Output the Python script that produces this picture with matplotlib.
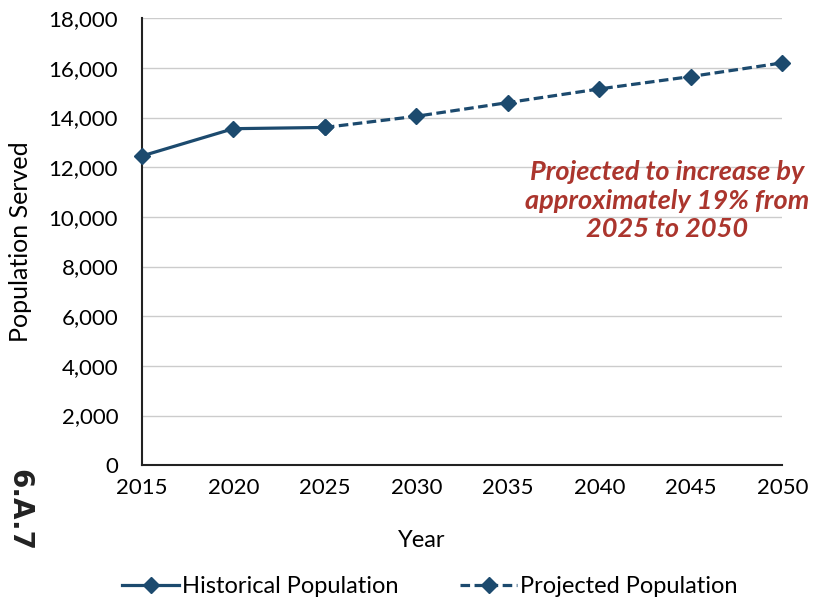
import matplotlib.pyplot as plt
from matplotlib.ticker import FuncFormatter

plt.rcParams['font.family'] = ['Lato', 'DejaVu Sans']

# population served, historical and projected
hist_years = [2015, 2020, 2025]
hist_pop = [12450, 13550, 13600]
proj_years = [2025, 2030, 2035, 2040, 2045, 2050]
proj_pop = [13600, 14050, 14600, 15150, 15650, 16200]

year_ticks = [2015, 2020, 2025, 2030, 2035, 2040, 2045, 2050]
pop_ticks = list(range(0, 18001, 2000))

line_color = '#1c4a6e'
note_color = '#ab352d'

fig = plt.figure(figsize=(8.15, 6.05), dpi=100)
ax = fig.add_axes([0.174, 0.231, 0.786, 0.739])

ax.plot(hist_years, hist_pop, color=line_color, lw=2.3, marker='D',
        markersize=8, label='Historical Population', clip_on=False, zorder=3)
ax.plot(proj_years, proj_pop, color=line_color, lw=2.3, ls=(0, (3, 1.4)),
        marker='D', markersize=8, label='Projected Population',
        clip_on=False, zorder=3)

ax.set_xlim(2015, 2050)
ax.set_ylim(0, 18000)
ax.set_xticks(year_ticks)
ax.set_yticks(pop_ticks)
ax.yaxis.set_major_formatter(FuncFormatter(lambda v, p: f'{int(v):,}'))
ax.tick_params(axis='both', length=0, labelsize=16)
ax.tick_params(axis='x', pad=9)
ax.tick_params(axis='y', pad=17)

ax.grid(axis='y', color='#cccccc', lw=1)
ax.set_axisbelow(True)
for side in ['top', 'right']:
    ax.spines[side].set_visible(False)
for side in ['left', 'bottom']:
    ax.spines[side].set_color('#222222')
    ax.spines[side].set_linewidth(1.5)

ax.set_xlabel('Year', fontsize=17, va='top')
ax.xaxis.set_label_coords(0.4375, -0.145)
ax.set_ylabel('Population Served', fontsize=18, va='center')
ax.yaxis.set_label_coords(-0.19, 0.5)

ax.text(2043.7, 10650, 'Projected to increase by\napproximately 19% from\n2025 to 2050',
        color=note_color, fontsize=19.5, fontweight='bold', fontstyle='italic',
        ha='center', va='center', linespacing=1.22)

fig.text(0.024, 0.157, '6.A.7', rotation=270, fontsize=20, fontweight='bold',
         ha='center', va='center', family='DejaVu Sans', color='#222222')

ax.legend(loc='center', bbox_to_anchor=(0.45, -0.272), ncol=2,
          frameon=False, fontsize=17, handlelength=2.4, columnspacing=2.6,
          handletextpad=0.15)

fig.savefig('out.png', dpi=100)
